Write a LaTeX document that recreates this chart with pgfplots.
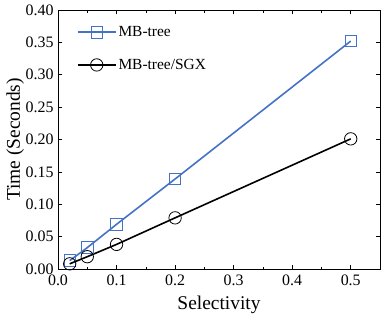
\documentclass[border=0pt]{standalone}
\usepackage{pgfplots}
\pgfplotsset{compat=1.18}
\usepackage{fontspec}
\setmainfont{Liberation Serif}
\definecolor{mbblue}{RGB}{68,114,196}
\begin{document}
\begin{tikzpicture}
\begin{axis}[
  scale only axis,
  width=322bp, height=259bp,
  xmin=0, xmax=0.55, ymin=0, ymax=0.40,
  xtick={0,0.1,0.2,0.3,0.4,0.5},
  xticklabels={0.0,0.1,0.2,0.3,0.4,0.5},
  minor xtick={0.05,0.15,0.25,0.35,0.45,0.55},
  ytick={0,0.05,0.1,0.15,0.2,0.25,0.3,0.35,0.4},
  yticklabel style={xshift=-1bp,/pgf/number format/.cd,fixed,fixed zerofill,precision=2},
  /pgf/number format/assume math mode=true,
  tick align=inside,
  major tick length=4bp, minor tick length=2.5bp,
  tick style={black, line width=0.6pt},
  axis line style={line width=0.8pt},
  ticklabel style={font=\fontsize{16}{19}\selectfont},
  xticklabel style={yshift=-2bp},
  xlabel={Selectivity}, ylabel={Time (Seconds)},
  label style={font=\fontsize{19.5}{23}\selectfont},
  xlabel style={at={(axis description cs:0.5,-0.139)}, anchor=center},
  ylabel style={at={(axis description cs:-0.133,0.5)}, anchor=center},
  legend style={draw=none, fill=none, at={(axis cs:0.032,0.381)}, anchor=north west,
    font=\fontsize{15.5}{18}\selectfont, row sep=17bp, legend cell align=left,
    inner xsep=0pt},
  legend image code/.code={
    \draw[#1,mark repeat=2,mark phase=2] plot coordinates {(0bp,0bp) (19bp,0bp) (38bp,0bp)};},
]
\addplot[mbblue, line width=1.6pt, mark=square, mark size=5.8bp, mark options={line width=0.8pt}]
  coordinates {(0.02,0.013) (0.05,0.033) (0.1,0.069) (0.2,0.139) (0.5,0.352)};
\addlegendentry{MB-tree}
\addplot[black, line width=1.6pt, mark=o, mark size=6.2bp, mark options={line width=0.8pt}]
  coordinates {(0.02,0.008) (0.05,0.019) (0.1,0.038) (0.2,0.079) (0.5,0.201)};
\addlegendentry{MB-tree/SGX}
\end{axis}
\path[use as bounding box] (-58bp,-56bp) rectangle (323bp,269bp);
\end{tikzpicture}
\end{document}
